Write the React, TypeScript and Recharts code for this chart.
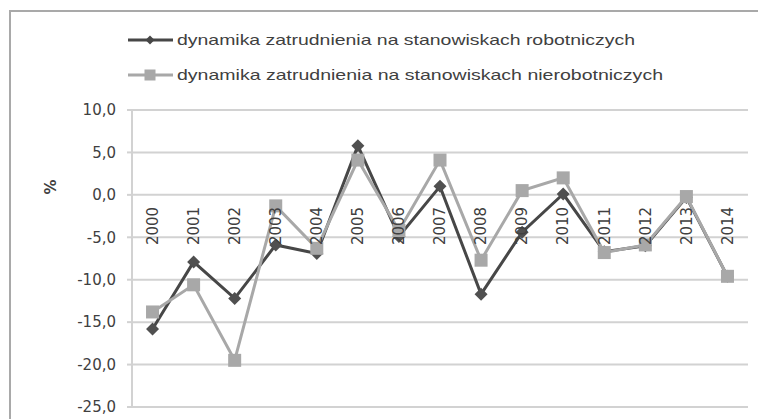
import { CartesianGrid, Legend, Line, LineChart, XAxis, YAxis } from 'recharts';

const years = ['2000', '2001', '2002', '2003', '2004', '2005', '2006', '2007', '2008', '2009', '2010', '2011', '2012', '2013', '2014'];
const robotnicze = [-15.8, -7.9, -12.2, -5.9, -6.9, 5.8, -4.9, 1.0, -11.7, -4.4, 0.1, -6.7, -6.0, -0.3, -9.6];
const nierobotnicze = [-13.8, -10.6, -19.5, -1.3, -6.3, 4.1, -4.2, 4.1, -7.7, 0.5, 2.0, -6.8, -5.9, -0.2, -9.6];
const yTicks = [10, 5, 0, -5, -10, -15, -20, -25];

const SERIES = [
  { key: 'rob', name: 'dynamika zatrudnienia na stanowiskach robotniczych', color: '#474747', marker: 'diamond', textLen: 458 },
  { key: 'nierob', name: 'dynamika zatrudnienia na stanowiskach nierobotniczych', color: '#a8a8a8', marker: 'square', textLen: 486 },
];

const data = years.map((year, i) => ({ year, rob: robotnicze[i], nierob: nierobotnicze[i] }));

const W = 758;
const H = 419;
const MARGIN = { top: 110, right: 10, bottom: 11, left: 0 };
const Y_AXIS_W = 132;
const X_AXIS_H = 1;
const Y_MIN = -25;
const Y_MAX = 10;
const TEXT = '#404040';
const GRID = '#d2d2d2';

// y of the zero line, where Excel puts the category labels
const plotH = H - MARGIN.top - MARGIN.bottom - X_AXIS_H;
const zeroY = MARGIN.top + (Y_MAX / (Y_MAX - Y_MIN)) * plotH;
// half a category band on each side, like Excel's "between tick marks"
const plotW = W - MARGIN.left - MARGIN.right - Y_AXIS_W;
const halfBand = plotW / years.length / 2;

const fmt = (v: number) => v.toFixed(1).replace('.', ',');

function Diamond({ cx, cy, r, fill }: any) {
  if (cx == null || cy == null) return null;
  return <polygon points={`${cx},${cy - r} ${cx + r},${cy} ${cx},${cy + r} ${cx - r},${cy}`} fill={fill} />;
}

function Square({ cx, cy, r, fill }: any) {
  if (cx == null || cy == null) return null;
  return <rect x={cx - r} y={cy - r} width={r * 2} height={r * 2} fill={fill} />;
}

function YearTick({ x, payload }: any) {
  return (
    <text
      x={x}
      y={zeroY + 12}
      transform={`rotate(-90, ${x}, ${zeroY + 12})`}
      textAnchor="end"
      dy="0.35em"
      fontSize={15}
      fontFamily="DejaVu Sans"
      fill={TEXT}
    >
      {payload.value}
    </text>
  );
}

function LegendBox() {
  return (
    <svg width={620} height={70}>
      {SERIES.map((s, i) => {
        const y = 15 + i * 35;
        return (
          <g key={s.key}>
            <line x1={8} x2={53} y1={y} y2={y} stroke={s.color} strokeWidth={3} />
            {s.marker === 'diamond' ? (
              <Diamond cx={30} cy={y} r={4.5} fill={s.color} />
            ) : (
              <Square cx={30} cy={y} r={5.5} fill={s.color} />
            )}
            <text
              x={57}
              y={y}
              dy="0.35em"
              fontSize={15}
              fontFamily="Liberation Sans"
              fill={TEXT}
              textLength={s.textLen}
              lengthAdjust="spacingAndGlyphs"
            >
              {s.name}
            </text>
          </g>
        );
      })}
    </svg>
  );
}

export default function App() {
  return (
    <div style={{ position: 'fixed', left: 0, top: 0, width: W, height: H, overflow: 'hidden', background: '#fff' }}>
      <div
        style={{
          position: 'absolute',
          left: 9,
          top: 10,
          width: 780,
          height: 440,
          border: '2px solid #a9a9a9',
          boxSizing: 'border-box',
        }}
      />
      <div style={{ position: 'absolute', left: 0, top: 0 }}>
        <LineChart width={W} height={H} data={data} margin={MARGIN}>
          <CartesianGrid vertical={false} stroke={GRID} strokeWidth={2} />
          <XAxis
            dataKey="year"
            height={X_AXIS_H}
            axisLine={false}
            tickLine={false}
            interval={0}
            padding={{ left: halfBand, right: halfBand }}
            tick={<YearTick />}
          />
          <YAxis
            width={Y_AXIS_W}
            domain={[Y_MIN, Y_MAX]}
            ticks={yTicks}
            tickFormatter={fmt}
            axisLine={{ stroke: GRID, strokeWidth: 2 }}
            tickLine={{ stroke: GRID, strokeWidth: 2 }}
            tickSize={5}
            tickMargin={11}
            tick={{ fontSize: 15, fontFamily: 'DejaVu Sans', fill: TEXT }}
            label={{
              value: '%',
              angle: -90,
              position: 'insideLeft',
              offset: 51,
              dy: -64,
              style: { fontSize: 15, fontFamily: 'DejaVu Sans', fontWeight: 'bold', fill: TEXT },
            }}
          />
          <Legend
            layout="vertical"
            align="center"
            verticalAlign="middle"
            wrapperStyle={{ left: 120, top: 25, width: 620, height: 70 }}
            content={<LegendBox />}
          />
          <Line
            dataKey="rob"
            name={SERIES[0].name}
            stroke={SERIES[0].color}
            strokeWidth={3}
            dot={<Diamond r={6.5} fill="#505050" />}
            isAnimationActive={false}
          />
          <Line
            dataKey="nierob"
            name={SERIES[1].name}
            stroke={SERIES[1].color}
            strokeWidth={3}
            dot={<Square r={6.5} fill="#a8a8a8" />}
            isAnimationActive={false}
          />
        </LineChart>
      </div>
    </div>
  );
}
